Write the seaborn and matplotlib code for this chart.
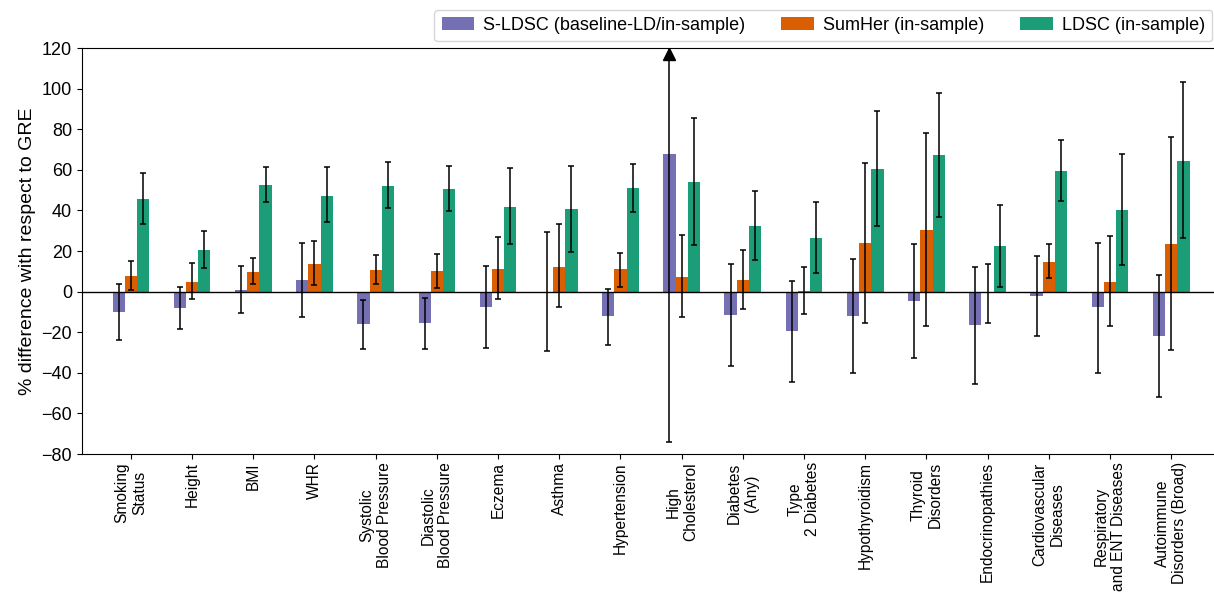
import numpy as np
import pandas as pd
import seaborn as sns
import matplotlib.pyplot as plt

sns.set_style('ticks')
plt.rcParams['font.family'] = ['Liberation Sans', 'DejaVu Sans']
plt.rcParams['text.color'] = 'black'
plt.rcParams['axes.labelcolor'] = 'black'
plt.rcParams['xtick.color'] = 'black'
plt.rcParams['ytick.color'] = 'black'
plt.rcParams['axes.edgecolor'] = 'black'

traits = ['Smoking\nStatus', 'Height', 'BMI', 'WHR', 'Systolic\nBlood Pressure',
          'Diastolic\nBlood Pressure', 'Eczema', 'Asthma', 'Hypertension',
          'High\nCholesterol', 'Diabetes\n(Any)', 'Type\n2 Diabetes', 'Hypothyroidism',
          'Thyroid\nDisorders', 'Endocrinopathies', 'Cardiovascular\nDiseases',
          'Respiratory\nand ENT Diseases', 'Autoimmune\nDisorders (Broad)']
methods = ['S-LDSC (baseline-LD/in-sample)', 'SumHer (in-sample)', 'LDSC (in-sample)']
colors = ['#7570b3', '#d95f02', '#1b9e77']

# % difference w.r.t. GRE, with lower / upper ends of the intervals
sldsc = [-10.2, -8.2, 1.0, 5.9, -16.1, -15.6, -7.7, 0.0, -12.2, 68.0,
         -11.7, -19.6, -12.2, -4.8, -16.6, -2.3, -7.7, -22.0]
sldsc_lo = [-24.0, -18.2, -10.5, -12.3, -28.2, -28.4, -27.9, -29.4, -26.3, -73.9,
            -36.5, -44.5, -40.1, -32.5, -45.3, -21.7, -40.1, -51.7]
sldsc_hi = [3.8, 2.1, 12.5, 23.8, -3.9, -3.3, 12.8, 29.4, 1.5, 120.0,  # High Chol. runs off the axis
            13.5, 5.3, 16.1, 23.3, 12.2, 17.4, 24.1, 8.0]

sumher = [7.9, 4.9, 9.9, 13.8, 10.8, 10.3, 11.3, 12.3, 11.3, 7.4,
          5.9, 0.5, 24.1, 30.5, -0.7, 14.8, 4.9, 23.6]
sumher_lo = [1.0, -3.8, 3.8, 3.1, 3.9, 2.0, -3.6, -7.7, 2.3, -12.7,
             -8.4, -10.8, -15.3, -16.9, -15.3, 6.6, -17.1, -28.7]
sumher_hi = [15.3, 13.9, 16.4, 25.0, 18.2, 18.6, 26.7, 33.2, 18.9, 27.7,
             20.3, 12.0, 63.5, 78.3, 13.6, 23.3, 27.2, 76.4]

ldsc = [45.8, 20.7, 52.7, 47.3, 52.2, 50.7, 41.9, 40.9, 51.2, 54.2,
        32.5, 26.6, 60.6, 67.5, 22.7, 59.6, 40.4, 64.5]
ldsc_lo = [33.3, 11.8, 44.2, 34.1, 41.0, 39.8, 23.5, 19.6, 39.4, 23.2,
           15.6, 9.2, 32.5, 36.9, 2.3, 44.7, 13.0, 26.3]
ldsc_hi = [58.5, 30.0, 61.4, 61.2, 63.7, 62.1, 60.7, 62.1, 62.7, 85.4,
           49.4, 44.0, 89.2, 98.0, 42.9, 74.9, 67.6, 103.3]

vals = [sldsc, sumher, ldsc]
los = [sldsc_lo, sumher_lo, ldsc_lo]
his = [sldsc_hi, sumher_hi, ldsc_hi]

df = pd.DataFrame({
    'trait': traits * 3,
    'method': np.repeat(methods, len(traits)),
    'value': sldsc + sumher + ldsc,
})

fig = plt.figure(figsize=(12.14, 5.92), dpi=100)
ax = fig.add_axes([0.0675, 0.2331, 0.9325, 0.6858])

sns.barplot(data=df, x='trait', y='value', hue='method', palette=colors,
            width=0.6, saturation=1, errorbar=None, linewidth=0, ax=ax)

for cont, v, lo, hi in zip(ax.containers, vals, los, his):
    xs = [p.get_x() + p.get_width() / 2 for p in cont]
    v = np.array(v)
    yerr = [v - np.array(lo), np.array(hi) - v]
    ax.errorbar(xs, v, yerr=yerr, fmt='none', ecolor='black', elinewidth=1.1,
                capsize=2, capthick=1.1, zorder=3)

# arrow for the interval that leaves the plot
hc = traits.index('High\nCholesterol')
p = ax.containers[0][hc]
ax.plot(p.get_x() + p.get_width() / 2, 117, marker='^', color='black',
        markersize=9, clip_on=False, zorder=4)

ax.axhline(0, color='black', lw=1)
ax.set_ylim(-80, 120)
ax.set_yticks(range(-80, 121, 20))
ax.set_xlim(-0.8, 17.7)
ax.set_xlabel('')
ax.set_ylabel('% difference with respect to GRE', fontsize=14)
ax.tick_params(axis='y', labelsize=13)
ax.tick_params(axis='x', labelsize=11.2, rotation=90, pad=2.5)
ax.spines['right'].set_visible(False)

ax.legend(ncol=3, loc='lower right', bbox_to_anchor=(1.0, 1.012), fontsize=13,
          borderaxespad=0.1, handlelength=1.8, handletextpad=0.5, columnspacing=2.0)

plt.savefig('out.png', dpi=100)
